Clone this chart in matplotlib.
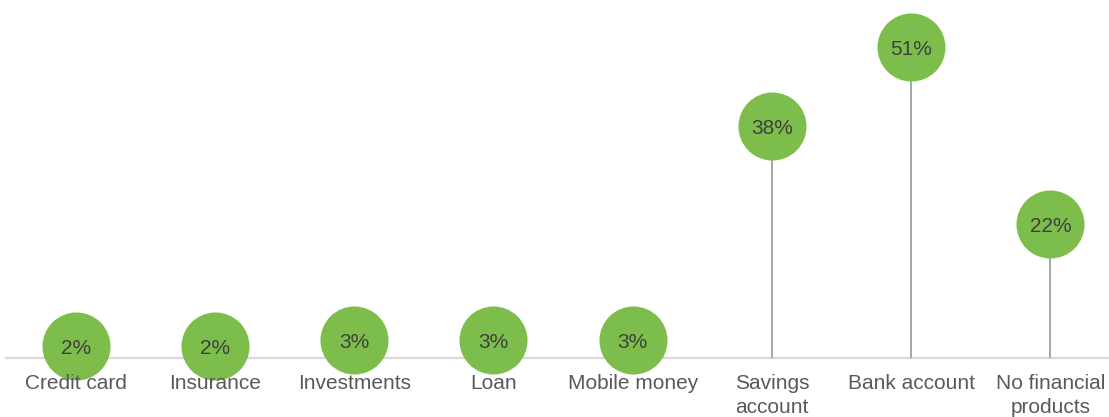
import numpy as np
import matplotlib
matplotlib.use("Agg")
import matplotlib.pyplot as plt

# Share of respondents by financial product
categories = ["Credit card", "Insurance", "Investments", "Loan", "Mobile money",
              "Savings\naccount", "Bank account", "No financial\nproducts"]
values = [2, 2, 3, 3, 3, 38, 51, 22]

green = "#7CBD4B"
stem = "#A6A6A6"
base = "#D9D9D9"

plt.rcParams["font.family"] = ["Liberation Sans", "DejaVu Sans"]

W, H = 1109, 417
fig = plt.figure(figsize=(W / 100, H / 100), dpi=100, facecolor="white")

# axes placed in pixel terms: baseline at y=358 from the top
x0, x1 = 6, 1120
yb = H - 358
px_per = 6.1
ax = fig.add_axes([x0 / W, yb / H, (x1 - x0) / W, (H - yb) / H])
ax.set_xlim(-0.5, len(categories) - 0.5)
ax.set_ylim(0, (H - yb) / px_per)
ax.axis("off")
ax.set_facecolor("none")

x = np.arange(len(categories))

ax.axhline(0, color=base, lw=1.6, zorder=1, clip_on=False)
ax.vlines(x, 0, values, color=stem, lw=1.4, zorder=2)
ax.plot(x, values, "o", ms=49, color=green, mec="none", zorder=3, clip_on=False)

for xi, v in zip(x, values):
    ax.annotate(f"{v}%", (xi, v), xytext=(0, -2), textcoords="offset points",
                ha="center", va="center", fontsize=15, color="#404040", zorder=4)

for xi, lab in zip(x, categories):
    ax.text(xi, -2.7, lab, ha="center", va="top", fontsize=15,
            color="#595959", linespacing=1.3, clip_on=False)

fig.savefig("out.png", dpi=100, facecolor="white")
